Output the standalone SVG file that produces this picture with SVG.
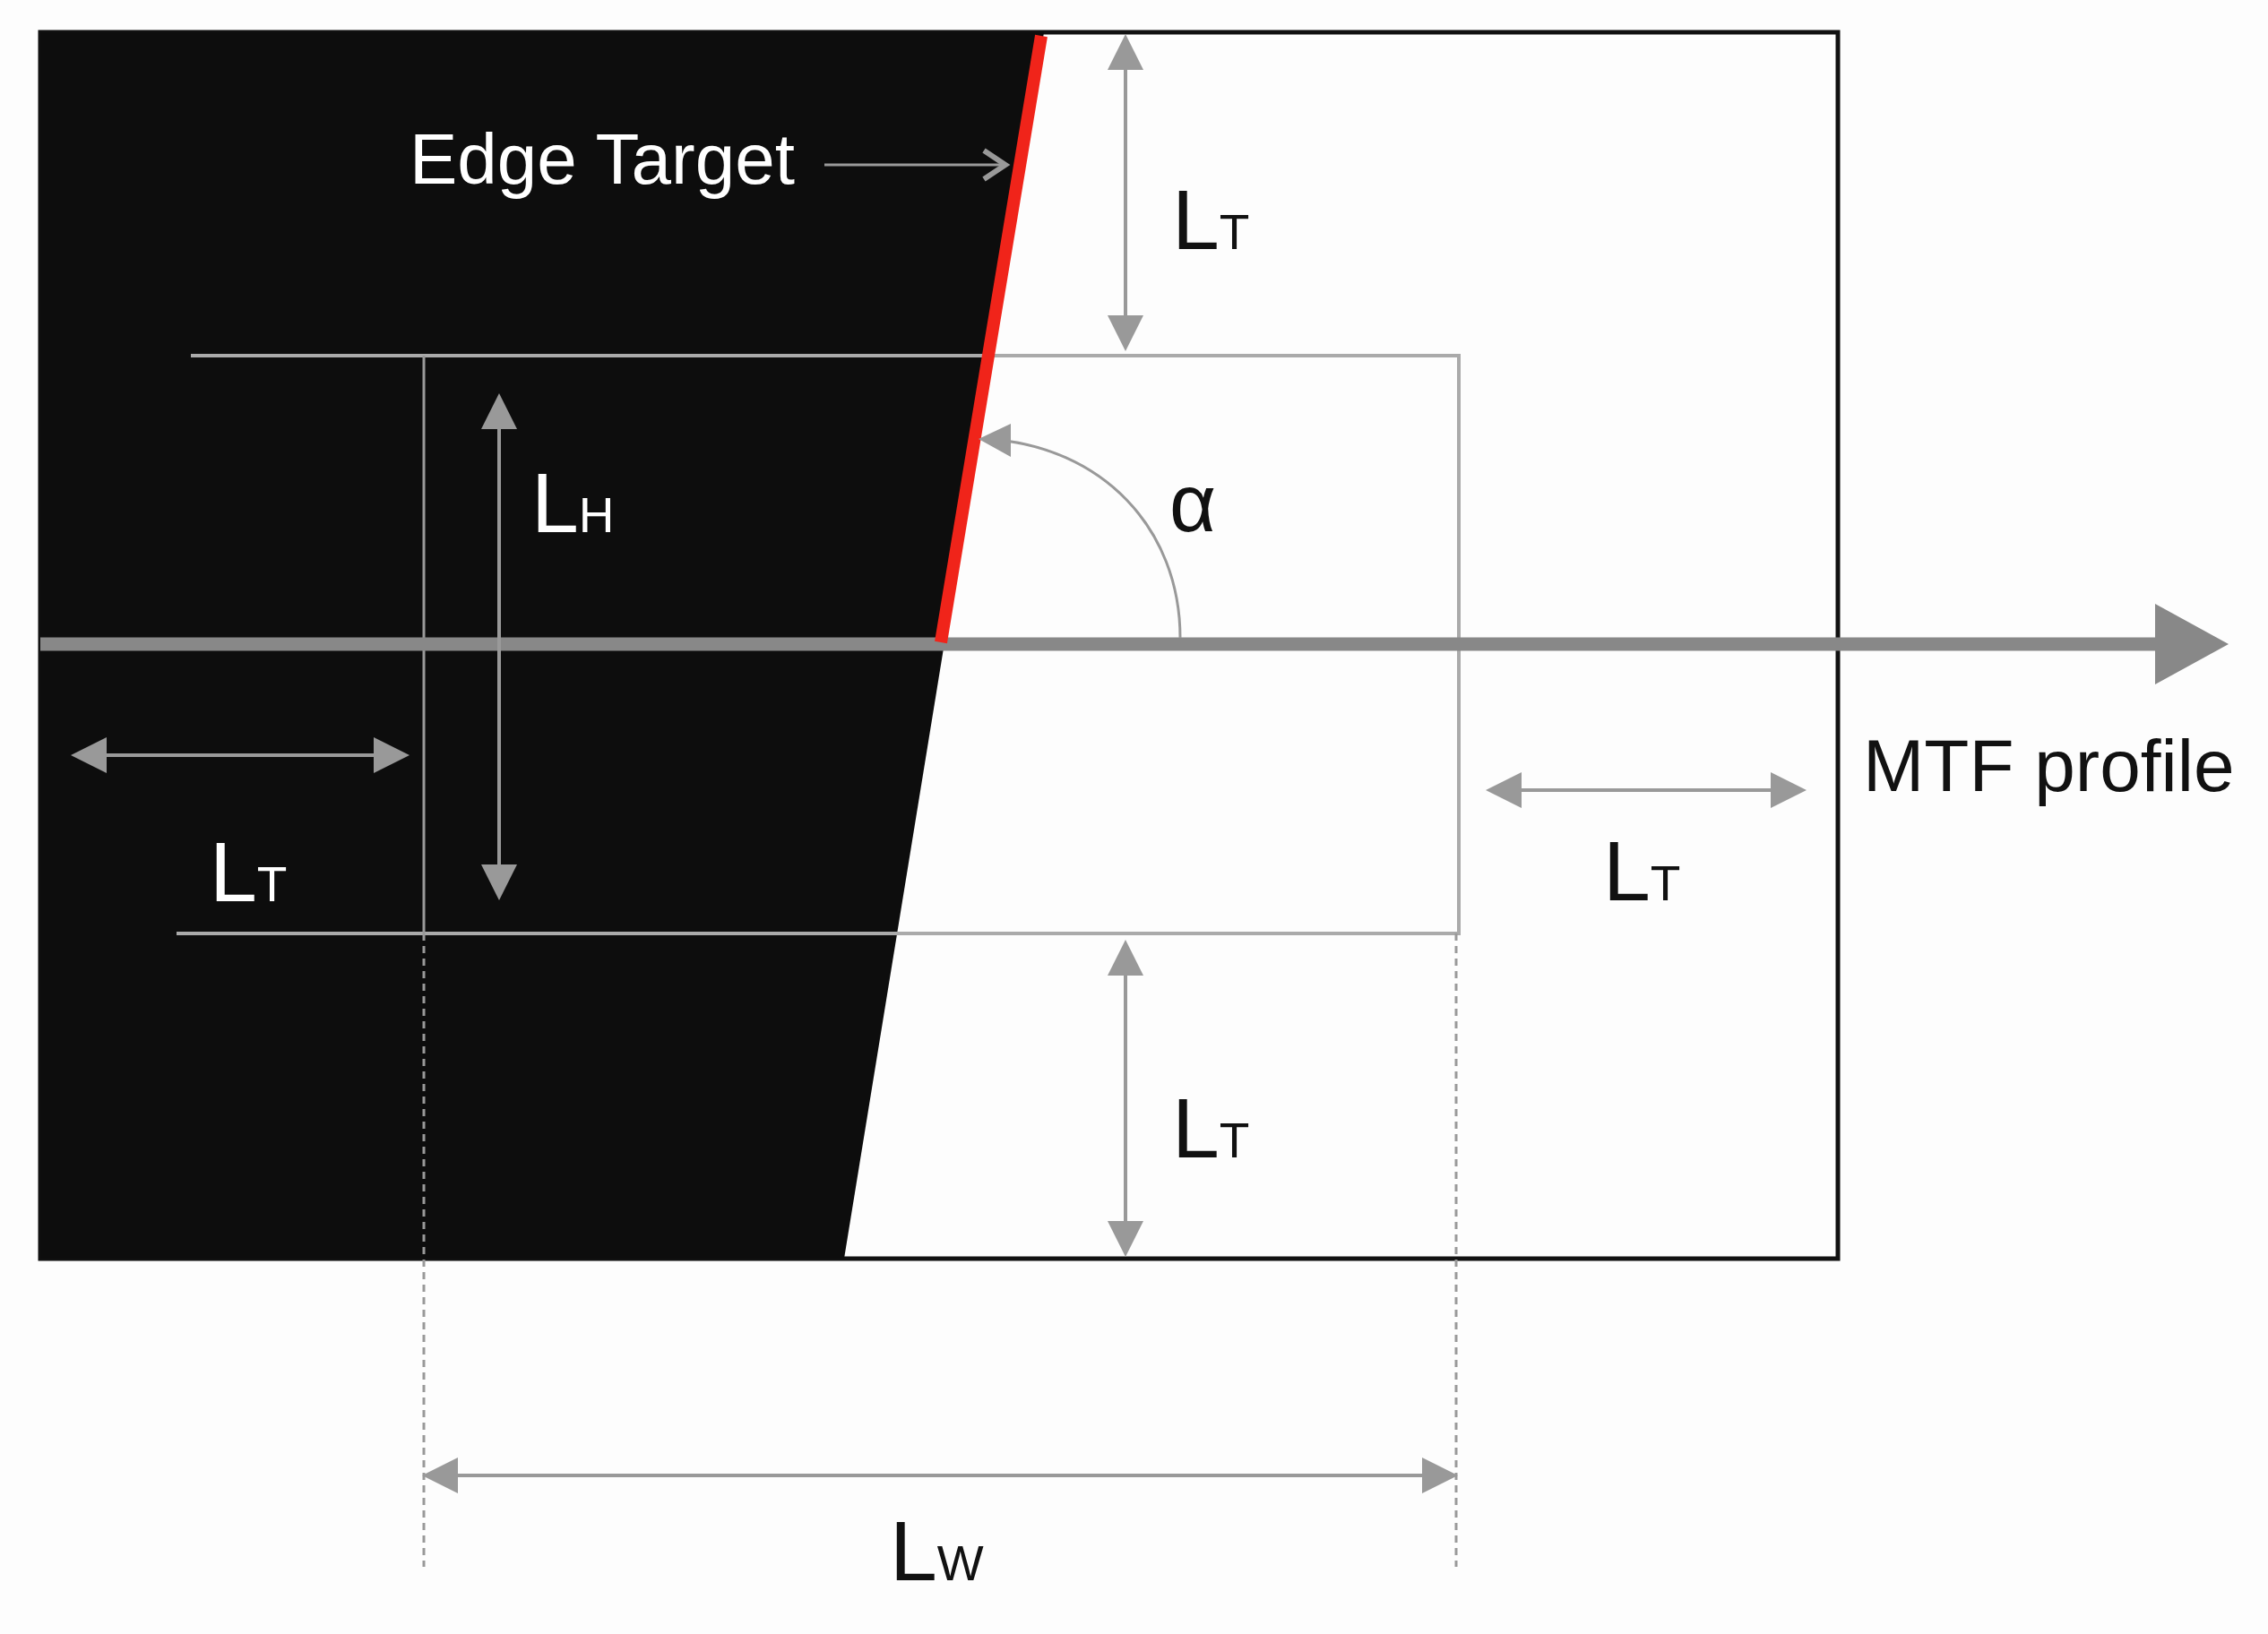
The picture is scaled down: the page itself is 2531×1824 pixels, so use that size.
<svg xmlns="http://www.w3.org/2000/svg" width="2531" height="1824" viewBox="0 0 2531 1824">
<defs>
<style>
.t{font-family:"Liberation Sans",Arial,sans-serif;fill:#111}
.d{stroke:#999;stroke-width:4;fill:none}
</style>
<marker id="ah" viewBox="0 0 10 10" refX="9" refY="5" markerWidth="10" markerHeight="10" markerUnits="userSpaceOnUse" orient="auto-start-reverse"><path d="M0,0L10,5L0,10z" fill="#999"/></marker>
<marker id="a2" viewBox="0 0 10 10" refX="9" refY="5" markerWidth="40" markerHeight="40" markerUnits="userSpaceOnUse" orient="auto-start-reverse"><path d="M0,0L10,5L0,10z" fill="#999"/></marker>
</defs>
<rect width="2531" height="1824" fill="#fdfdfd"/>
<g id="frame">
<rect x="45" y="36" width="2006" height="1369" fill="#fdfdfd" stroke="#111" stroke-width="5"/>
<polygon points="45,36 1165,36 942,1405 45,1405" fill="#0d0d0d"/>
</g>
<g id="roi">
<polyline points="213,397 1628,397 1628,1042 197,1042" fill="none" stroke="#aaa" stroke-width="4"/>
<line x1="473" y1="397" x2="473" y2="1042" stroke="#999" stroke-width="3"/>
<line x1="473" y1="1042" x2="473" y2="1749" stroke="#999" stroke-width="3" stroke-dasharray="8,6"/>
<line x1="1625" y1="1042" x2="1625" y2="1749" stroke="#999" stroke-width="3" stroke-dasharray="8,6"/>
</g>
<g id="profile">
<line x1="45" y1="719" x2="2410" y2="719" stroke="#888" stroke-width="15"/>
<polygon points="2405,674 2487,719 2405,764" fill="#888"/>
</g>
<g id="edge">
<line x1="1162" y1="40" x2="1050" y2="717" stroke="#f0241a" stroke-width="14"/>
</g>
<g id="connectors">
<line class="d" x1="1256" y1="42" x2="1256" y2="388" marker-start="url(#a2)" marker-end="url(#a2)"/>
<line class="d" x1="1256" y1="1053" x2="1256" y2="1399" marker-start="url(#a2)" marker-end="url(#a2)"/>
<line class="d" x1="557" y1="443" x2="557" y2="1001" marker-start="url(#a2)" marker-end="url(#a2)"/>
<line class="d" x1="83" y1="843" x2="453" y2="843" marker-start="url(#a2)" marker-end="url(#a2)"/>
<line class="d" x1="1662" y1="882" x2="2012" y2="882" marker-start="url(#a2)" marker-end="url(#a2)"/>
<line class="d" x1="475" y1="1647" x2="1623" y2="1647" marker-start="url(#a2)" marker-end="url(#a2)"/>
<line x1="920" y1="184" x2="1120" y2="184" stroke="#999" stroke-width="3"/>
<path d="M1098,168 L1122,184 L1098,200" fill="none" stroke="#999" stroke-width="6"/>
<path d="M1317,712 C1317,590 1230,498 1102,490" fill="none" stroke="#999" stroke-width="3"/>
<polygon points="1092,490 1128,473 1128,510" fill="#999"/>
</g>
<g id="labels">
<text class="t" x="457" y="205" font-size="80" style="fill:#fff">Edge Target</text>
<text class="t" x="1305" y="593" font-size="90">α</text>
<text class="t" x="2079" y="883" font-size="82">MTF profile</text>
<text class="t" x="1308" y="278" font-size="95">L<tspan font-size="55">T</tspan></text>
<text class="t" x="1308" y="1292" font-size="95">L<tspan font-size="55">T</tspan></text>
<text class="t" x="1789" y="1005" font-size="95">L<tspan font-size="55">T</tspan></text>
<text class="t" x="234" y="1006" font-size="95" style="fill:#fff">L<tspan font-size="55">T</tspan></text>
<text class="t" x="593" y="594" font-size="95" style="fill:#fff">L<tspan font-size="55">H</tspan></text>
<text class="t" x="993" y="1764" font-size="95">L<tspan font-size="55">W</tspan></text>
</g>
</svg>
